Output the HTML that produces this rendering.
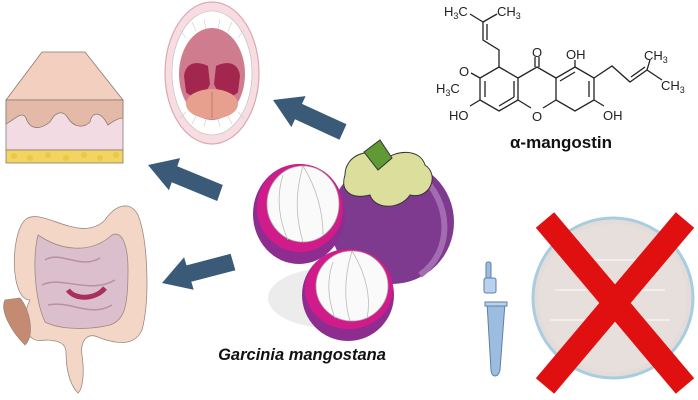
<!DOCTYPE html>
<html><head><meta charset="utf-8"><style>
html,body{margin:0;padding:0;background:#fff;width:698px;height:400px;overflow:hidden}
svg{display:block}
text{font-family:"Liberation Sans",sans-serif}
</style></head><body>
<svg width="698" height="400" viewBox="0 0 698 400" xmlns="http://www.w3.org/2000/svg">
<!-- Skin -->
<g stroke="#8a7a70" stroke-width="0.8">
<path d="M6,100 L42,52 L85,52 L123,100 Z" fill="#f2cfbf"/>
<rect x="6" y="100" width="117" height="50" fill="#f3dbe4"/>
<path d="M6,100 H123 V118 C118,118 112,122 108,125 C100,110 92,112 90,122 C84,128 74,128 68,118 C62,108 54,114 50,122 C40,130 30,130 26,118 C22,110 14,120 6,124 Z" fill="#e3b9a8"/>
<rect x="6" y="150" width="117" height="13" fill="#f2d460"/>
</g>
<g fill="#e8c84a"><circle cx="14" cy="156" r="3"/><circle cx="30" cy="158" r="3"/><circle cx="48" cy="155" r="3"/><circle cx="66" cy="158" r="3"/><circle cx="84" cy="155" r="3"/><circle cx="100" cy="158" r="3"/><circle cx="116" cy="155" r="3"/></g>
<!-- Mouth -->
<ellipse cx="212" cy="73" rx="47" ry="71" fill="#f7dde2" stroke="#d9a8b2" stroke-width="1.2"/>
<ellipse cx="212" cy="73" rx="40" ry="62" fill="#fff" stroke="#bbb" stroke-width="0.6"/>
<g stroke="#ccc" stroke-width="0.6" fill="none">
<path d="M180,30 L186,38 M192,22 L196,31 M204,19 L206,29 M220,19 L218,29 M232,22 L228,31 M244,30 L238,38"/>
<path d="M180,118 L186,112 M192,124 L196,116 M204,127 L206,119 M220,127 L218,119 M232,124 L228,116 M244,118 L238,112"/>
</g>
<ellipse cx="212" cy="74" rx="33" ry="46" fill="#cf7d8e"/>
<path d="M184,76 C186,60 200,62 208,66 L210,84 C205,98 190,98 186,92 Z" fill="#a3264f"/>
<path d="M240,76 C238,60 224,62 216,66 L214,84 C219,98 234,98 238,92 Z" fill="#a3264f"/>
<ellipse cx="212" cy="104" rx="26" ry="15" fill="#e79f8e"/>
<path d="M212,92 V118" stroke="#c57a6e" stroke-width="1"/>
<!-- Arrows -->
<g fill="#3a5a78">
<polygon points="273,100 305.6,96.1 302,103.9 346.5,124.3 339.5,139.7 295,119.3 291.4,127.1"/>
<polygon points="148,165 180.1,158.1 177.3,166.2 222.8,185 217.2,201 171.7,182.2 168.9,190.3"/>
<polygon points="162,283 184.1,257.2 186.5,265.4 230.6,253.8 235.4,270.2 191.3,281.7 193.7,289.8"/>
</g>
<!-- Intestine -->
<g stroke="#9a8a80" stroke-width="0.8">
<path d="M30,300 C10,300 10,235 25,220 C40,205 80,245 105,220 C115,205 130,200 138,215 C148,240 150,300 142,330 C135,345 120,345 100,338 C85,330 80,345 82,355 C85,375 82,390 78,393 C70,385 66,370 66,352 C66,342 55,340 45,340 C25,345 20,320 30,300 Z" fill="#f4d6c6"/>
<path d="M38,235 C60,250 90,255 112,235 C122,230 128,245 128,270 C128,305 125,320 110,325 C90,330 60,330 45,322 C35,300 32,260 38,235 Z" fill="#dcbfcc"/>
<path d="M45,260 C60,250 80,270 100,258 M42,285 C60,275 90,295 115,280 M48,305 C70,300 90,318 112,305" stroke="#b890a0" stroke-width="1.5" fill="none"/>
<path d="M68,290 C75,300 95,300 105,288" stroke="#a8305a" stroke-width="5" fill="none"/>
<path d="M5,300 C0,310 10,330 25,345 C35,335 30,310 20,298 Z" fill="#c58a72"/>
</g>
<!-- Mangosteen -->
<ellipse cx="330" cy="298" rx="62" ry="30" fill="#ececec"/>
<circle cx="392" cy="222" r="62" fill="#7e3a8e"/>
<path d="M420,175 C450,200 455,250 420,275" stroke="#a36bb2" stroke-width="6" fill="none"/>
<g fill="#dcdf9c" stroke="#333" stroke-width="1">
<path d="M345,175 C345,155 370,145 385,160 C395,150 420,148 425,165 C440,175 430,200 410,195 C400,210 375,210 370,195 C350,200 340,190 345,175 Z"/>
</g>
<path d="M364,152 L380,140 L392,158 L378,170 Z" fill="#5f9a35" stroke="#333" stroke-width="1"/>
<ellipse cx="299" cy="214" rx="46" ry="50" fill="#8e2d90"/>
<ellipse cx="300" cy="208" rx="43" ry="44" fill="#d21b8a"/>
<ellipse cx="303" cy="204" rx="36" ry="38" fill="#fafafa" stroke="#aaa" stroke-width="0.8"/>
<ellipse cx="348" cy="295" rx="46" ry="46" fill="#8e2d90"/>
<ellipse cx="349" cy="289" rx="44" ry="40" fill="#d21b8a"/>
<ellipse cx="352" cy="286" rx="36" ry="35" fill="#fafafa" stroke="#aaa" stroke-width="0.8"/>
<g stroke="#bbb" stroke-width="0.8" fill="none">
<path d="M303,166 C293,200 298,225 303,242 M303,166 C318,190 323,215 323,235 M283,175 C275,200 281,225 288,240"/>
<path d="M352,251 C343,280 345,305 350,321 M352,251 C367,275 371,300 367,318 M333,262 C325,285 330,305 335,318"/>
</g>
<text x="302" y="360" font-size="16.5" font-weight="bold" font-style="italic" text-anchor="middle" fill="#111">Garcinia mangostana</text>
<!-- Chemical structure -->
<g stroke="#222" stroke-width="1.3" fill="none">
<path d="M499,67 L518,78 L518,100 L499,111 L480,100 L480,78 Z"/>
<path d="M518,78 L537,67 L556,78 M518,100 L531,108 M543,108 L556,100"/>
<path d="M575,67 L594,78 L594,100 L575,111 L556,100 L556,78 Z"/>
<path d="M485,81 L485,97 M499,106 L514,97 M589,81 L589,97 M575,72 L560,81 M514,81 L514,97"/>
<path d="M535,67 V57 M539,67 V57"/>
<path d="M499,67 V50 L483,40 V22 M487,40 V24 M483,22 L470,14 M483,22 L497,14"/>
<path d="M480,78 L471,73 M480,100 L470,106"/>
<path d="M575,67 V60 M594,78 L612,66 L630,82 L647,70 M631,77 L645,67 M647,70 L650,60 M647,70 L662,80 M594,100 L604,106"/>
</g>
<g font-size="13" fill="#222">
<text x="444" y="16">H<tspan font-size="9" dy="3">3</tspan><tspan dy="-3">C</tspan></text>
<text x="497" y="16">CH<tspan font-size="9" dy="3">3</tspan></text>
<text x="532" y="57">O</text>
<text x="566" y="59">OH</text>
<text x="459" y="76">O</text>
<text x="436" y="93">H<tspan font-size="9" dy="3">3</tspan><tspan dy="-3">C</tspan></text>
<text x="449" y="120">HO</text>
<text x="532" y="121">O</text>
<text x="603" y="120">OH</text>
<text x="644" y="60">CH<tspan font-size="9" dy="3">3</tspan></text>
<text x="661" y="90">CH<tspan font-size="9" dy="3">3</tspan></text>
</g>
<text x="561" y="148" font-size="17" font-weight="bold" text-anchor="middle" fill="#111">α-mangostin</text>
<!-- Tube -->
<g stroke="#5c7fa8" stroke-width="1">
<rect x="486" y="262" width="5" height="30" rx="2" fill="#9dbde0"/>
<rect x="484" y="278" width="12" height="15" rx="2" fill="#b8d2ee"/>
<path d="M487,303 H505 L500,370 C498,378 492,378 491,370 Z" fill="#9dbde0"/>
<rect x="485" y="302" width="22" height="4" fill="#b8d2ee"/>
</g>
<!-- Petri dish -->
<circle cx="613" cy="298" r="80" fill="#e4dcd9" stroke="#a8cde0" stroke-width="3"/>
<circle cx="613" cy="298" r="74" fill="#e6dfdc"/>
<g stroke="#f6f2f1" stroke-width="2" opacity="0.8"><path d="M555,290 H665 M550,320 H670 M570,260 H655"/></g>
<!-- Red X -->
<g stroke="#e01010" stroke-width="24" stroke-linecap="butt">
<path d="M545,220 L685,386 M685,220 L545,386"/>
</g>
</svg>
</body></html>
